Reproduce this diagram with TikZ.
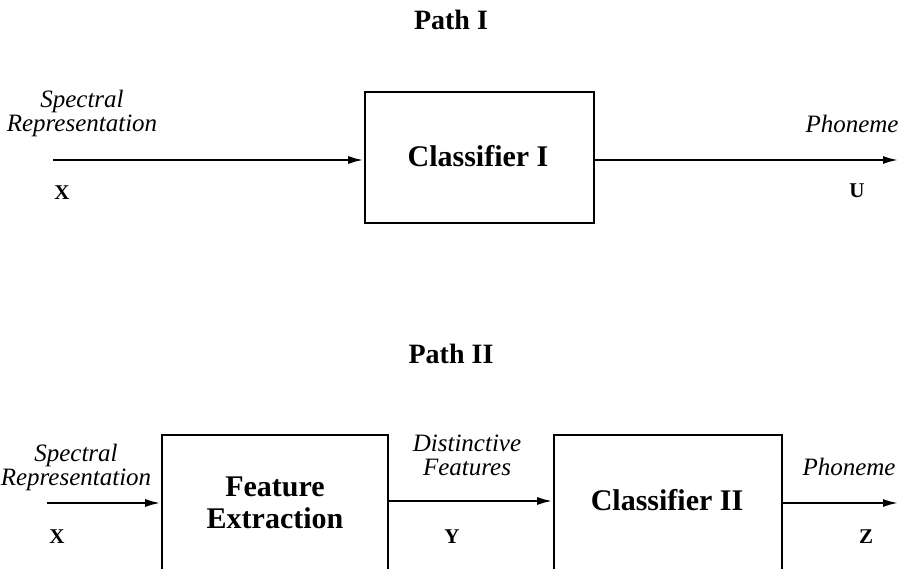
\documentclass[tikz,border=0pt]{standalone}
\usepackage{fontspec}
\setmainfont{Liberation Serif}
\usetikzlibrary{arrows.meta}
\tikzset{
  blk/.style={draw, line width=1.6pt, inner sep=0pt},
  flow/.style={line width=2.6pt, -{Latex[length=16pt,width=8pt]}},
  ttl/.style={font=\bfseries\fontsize{28}{32}\selectfont, inner sep=0pt},
  boxtxt/.style={font=\bfseries\fontsize{30}{32}\selectfont, align=center, inner sep=0pt},
  sig/.style={font=\itshape\fontsize{25}{24}\selectfont, align=center, inner sep=0pt},
  var/.style={font=\bfseries\fontsize{21}{22}\selectfont, inner sep=0pt}
}
\begin{document}
\begin{tikzpicture}[x=1pt,y=1pt]
\useasboundingbox (0,0) rectangle (902,-569);
\clip (0,0) rectangle (902,-569);
% ---------- Path I ----------
\node[ttl] (t1) at (451,-20) {Path I};
\node[blk, minimum width=229pt, minimum height=131pt] (c1) at (479.5,-157.5) {};
\node[boxtxt] (c1t) at (478,-156) {Classifier I};
\coordinate (i1) at (53,-160);
\coordinate (o1) at (899,-160);
\draw[flow] (i1) -- (i1 -| c1.west);
\draw[flow] (c1.east |- o1) -- (o1);
\node[sig] (s1) at (82,-113) {Spectral\\Representation};
\node[var] (x1) at (62,-193) {X};
\node[sig] (p1) at (852,-124) {Phoneme};
\node[var] (u1) at (857,-191) {U};
% ---------- Path II ----------
\node[ttl] (t2) at (451,-354) {Path II};
\node[blk, minimum width=226pt, minimum height=300pt, anchor=north] (fe) at (275,-434) {};
\node[boxtxt] (fet) at (275,-503) {Feature\\Extraction};
\node[blk, minimum width=228pt, minimum height=300pt, anchor=north] (c2) at (668,-434) {};
\node[boxtxt] (c2t) at (667,-500) {Classifier II};
\coordinate (i2) at (47,-503);
\coordinate (m2) at (388,-501);
\coordinate (o2) at (899,-503);
\draw[flow] (i2) -- (i2 -| fe.west);
\draw[flow] (fe.east |- m2) -- (m2 -| c2.west);
\draw[flow] (c2.east |- o2) -- (o2);
\node[sig] (s2) at (76,-467) {Spectral\\Representation};
\node[var] (x2) at (57,-537) {X};
\node[sig] (d2) at (467,-455) {Distinctive\\Features};
\node[var] (y2) at (452,-537) {Y};
\node[sig] (p2) at (849,-467) {Phoneme};
\node[var] (z2) at (866,-537) {Z};
\end{tikzpicture}
\end{document}
